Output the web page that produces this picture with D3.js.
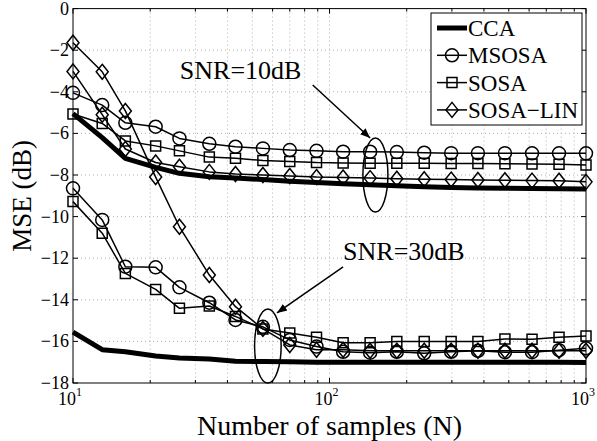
<!DOCTYPE html>
<html lang="en">
  <head>
    <meta charset="UTF-8" />
    <title>MSE vs number of samples</title>
    <script src="https://d3js.org/d3.v7.min.js"></script>
    <style>
      body {
        margin: 0;
        background: #fff;
      }
      .grid line {
        stroke: #b0b0b0;
        stroke-width: 1px;
        stroke-dasharray: 1, 3;
      }
    </style>
  </head>
  <body>
    <svg width="597" height="441" font-family="'Liberation Serif', 'Times New Roman', 'DejaVu Serif', serif"></svg>
    <script>
      // sample sizes (log spaced, 20 points between 10 and 1000)
      const samples = [10, 13, 16, 21, 26, 34, 43, 55, 70, 89, 113, 144, 183, 234, 298, 379, 483, 616, 785, 1000];

      // SNR = 10 dB
      const cca10 = [-5.05, -6.2, -7.2, -7.63, -7.92, -8.08, -8.15, -8.22, -8.3, -8.36, -8.42, -8.47, -8.52, -8.56, -8.6, -8.62, -8.64, -8.65, -8.66, -8.67];
      const msosa10 = [-4.05, -4.64, -5.49, -5.68, -6.24, -6.5, -6.64, -6.72, -6.8, -6.84, -6.88, -6.88, -6.9, -6.93, -6.95, -6.95, -6.95, -6.96, -6.96, -6.96];
      const sosa10 = [-5.07, -5.52, -6.36, -6.6, -6.84, -7.14, -7.2, -7.3, -7.35, -7.4, -7.42, -7.44, -7.44, -7.44, -7.45, -7.45, -7.46, -7.47, -7.48, -7.52];
      const sosalin10 = [-3.02, -5.1, -6.75, -7.4, -7.6, -7.85, -7.95, -8.0, -8.05, -8.1, -8.12, -8.15, -8.18, -8.2, -8.22, -8.24, -8.25, -8.27, -8.28, -8.33];

      // SNR = 30 dB
      const cca30 = [-15.55, -16.4, -16.5, -16.7, -16.8, -16.85, -16.95, -16.97, -16.98, -17.0, -17.0, -17.0, -17.0, -17.0, -17.0, -17.0, -17.0, -17.0, -17.0, -17.02];
      const msosa30 = [-8.64, -10.16, -12.41, -12.44, -13.4, -14.14, -14.97, -15.3, -15.93, -16.25, -16.5, -16.54, -16.5, -16.57, -16.5, -16.45, -16.52, -16.52, -16.42, -16.33];
      const sosa30 = [-9.28, -10.8, -12.73, -13.5, -14.41, -14.3, -14.8, -15.4, -15.6, -15.8, -16.06, -16.06, -16.0, -16.0, -16.0, -16.0, -15.88, -15.9, -15.8, -15.74];
      const sosalin30 = [-1.64, -3.04, -4.92, -8.1, -10.49, -12.81, -14.33, -15.4, -16.17, -16.4, -16.4, -16.45, -16.45, -16.45, -16.45, -16.45, -16.45, -16.45, -16.45, -16.45];

      const seriesNames = ["CCA", "MSOSA", "SOSA", "SOSA\u2212LIN"];
      const yTicks = [0, -2, -4, -6, -8, -10, -12, -14, -16, -18];
      const xMajor = [10, 100, 1000];
      const xMinor = [20, 30, 40, 50, 60, 70, 80, 90, 200, 300, 400, 500, 600, 700, 800, 900];

      const svg = d3.select("svg");
      const plot = { left: 73, right: 586, top: 8.6, bottom: 383 };

      const x = d3.scaleLog().domain([10, 1000]).range([plot.left, plot.right]);
      const y = d3.scaleLinear().domain([-18, 0]).range([plot.bottom, plot.top]);

      // grid
      const grid = svg.append("g").attr("class", "grid");
      grid.selectAll(".gx")
        .data(xMajor.concat(xMinor).filter((d) => d > 10 && d < 1000))
        .enter().append("line")
        .attr("x1", (d) => x(d)).attr("x2", (d) => x(d))
        .attr("y1", plot.top).attr("y2", plot.bottom);
      grid.selectAll(".gy")
        .data(yTicks.filter((d) => d > -18 && d < 0))
        .enter().append("line")
        .attr("x1", plot.left).attr("x2", plot.right)
        .attr("y1", (d) => y(d)).attr("y2", (d) => y(d));

      // inward ticks on all four sides
      const ticks = svg.append("g").attr("stroke", "#000").attr("stroke-width", 1);
      yTicks.forEach((d) => {
        ticks.append("line").attr("x1", plot.left).attr("x2", plot.left + 5).attr("y1", y(d)).attr("y2", y(d));
        ticks.append("line").attr("x1", plot.right).attr("x2", plot.right - 5).attr("y1", y(d)).attr("y2", y(d));
      });
      xMajor.forEach((d) => {
        ticks.append("line").attr("x1", x(d)).attr("x2", x(d)).attr("y1", plot.bottom).attr("y2", plot.bottom - 5);
        ticks.append("line").attr("x1", x(d)).attr("x2", x(d)).attr("y1", plot.top).attr("y2", plot.top + 5);
      });
      xMinor.forEach((d) => {
        ticks.append("line").attr("x1", x(d)).attr("x2", x(d)).attr("y1", plot.bottom).attr("y2", plot.bottom - 3);
        ticks.append("line").attr("x1", x(d)).attr("x2", x(d)).attr("y1", plot.top).attr("y2", plot.top + 3);
      });

      // tick labels
      svg.selectAll(".ylab")
        .data(yTicks)
        .enter().append("text")
        .attr("x", plot.left - 4)
        .attr("y", (d) => y(d) + 6)
        .attr("text-anchor", "end")
        .attr("font-size", 18)
        .text((d) => (d < 0 ? "\u2212" + -d : d));

      const xl = svg.selectAll(".xlab")
        .data(xMajor)
        .enter().append("text")
        .attr("x", (d) => x(d) - 3)
        .attr("y", plot.bottom + 22)
        .attr("text-anchor", "middle")
        .attr("font-size", 18);
      xl.append("tspan").text("10");
      xl.append("tspan")
        .attr("font-size", 12)
        .attr("dy", -9)
        .text((d) => Math.round(Math.log10(d)));

      // axis titles
      svg.append("text")
        .attr("x", (plot.left + plot.right) / 2)
        .attr("y", 435)
        .attr("text-anchor", "middle")
        .attr("font-size", 28)
        .text("Number of samples (N)");
      svg.append("text")
        .attr("transform", `translate(31,${(plot.top + plot.bottom) / 2}) rotate(-90)`)
        .attr("text-anchor", "middle")
        .attr("font-size", 27)
        .text("MSE (dB)");

      // series
      const line = d3.line().x((d) => x(d[0])).y((d) => y(d[1]));
      const markerPath = {
        circle: "M6.5,0A6.5,6.5 0 1,1 -6.5,0A6.5,6.5 0 1,1 6.5,0Z",
        square: "M-5,-5H5V5H-5Z",
        diamond: "M0,-7.5L6,0L0,7.5L-6,0Z",
        none: null,
      };
      const styles = [
        { w: 5, m: "none" },
        { w: 1.5, m: "circle" },
        { w: 1.5, m: "square" },
        { w: 1.5, m: "diamond" },
      ];
      const groups = [
        [cca10, msosa10, sosa10, sosalin10],
        [cca30, msosa30, sosa30, sosalin30],
      ];

      const series = svg.append("g");
      groups.forEach((grp) => {
        grp.forEach((vals, i) => {
          const pts = samples.map((n, k) => [n, vals[k]]);
          const st = styles[i];
          series.append("path")
            .datum(pts)
            .attr("d", line)
            .attr("fill", "none")
            .attr("stroke", "#000")
            .attr("stroke-width", st.w)
            .attr("stroke-linejoin", "round");
          if (markerPath[st.m]) {
            series.selectAll(null)
              .data(pts)
              .enter().append("path")
              .attr("d", markerPath[st.m])
              .attr("transform", (d) => `translate(${x(d[0])},${y(d[1])})`)
              .attr("fill", "none")
              .attr("stroke", "#000")
              .attr("stroke-width", 1.5);
          }
        });
      });

      // plot box
      svg.append("rect")
        .attr("x", plot.left).attr("y", plot.top)
        .attr("width", plot.right - plot.left).attr("height", plot.bottom - plot.top)
        .attr("fill", "none").attr("stroke", "#000").attr("stroke-width", 1);

      // annotations (data units)
      svg.append("defs").append("marker")
        .attr("id", "arrow")
        .attr("viewBox", "0 0 10 10")
        .attr("refX", 10).attr("refY", 5)
        .attr("markerWidth", 10).attr("markerHeight", 10)
        .attr("markerUnits", "userSpaceOnUse")
        .attr("orient", "auto")
        .append("path").attr("d", "M0,1L10,5L0,9Z").attr("fill", "#000");

      const notes = [
        { label: "SNR=10dB", tx: 26.1, ty: -3.38, from: [86, -3.67], to: [144, -6.22], ell: [151, -8.0, 12.5, 1.78] },
        { label: "SNR=30dB", tx: 113, ty: -12.09, from: [113, -12.42], to: [62.4, -14.63], ell: [57.5, -16.22, 13.3, 1.78] },
      ];
      notes.forEach((n) => {
        svg.append("text")
          .attr("x", x(n.tx)).attr("y", y(n.ty))
          .attr("font-size", 26)
          .text(n.label);
        svg.append("line")
          .attr("x1", x(n.from[0])).attr("y1", y(n.from[1]))
          .attr("x2", x(n.to[0])).attr("y2", y(n.to[1]))
          .attr("stroke", "#000").attr("stroke-width", 1.5)
          .attr("marker-end", "url(#arrow)");
        svg.append("ellipse")
          .attr("cx", x(n.ell[0])).attr("cy", y(n.ell[1]))
          .attr("rx", n.ell[2])
          .attr("ry", y(n.ell[1] - n.ell[3]) - y(n.ell[1]))
          .attr("fill", "none").attr("stroke", "#000").attr("stroke-width", 1.5);
      });

      // legend
      const lg = svg.append("g").attr("transform", "translate(431,13)");
      lg.append("rect")
        .attr("width", 151).attr("height", 112)
        .attr("fill", "#fff").attr("stroke", "#000").attr("stroke-width", 1);
      seriesNames.forEach((name, i) => {
        const cy = 15 + i * 27.3;
        const st = styles[i];
        lg.append("line")
          .attr("x1", 6).attr("x2", 36).attr("y1", cy).attr("y2", cy)
          .attr("stroke", "#000").attr("stroke-width", st.w);
        if (markerPath[st.m]) {
          lg.append("path")
            .attr("d", markerPath[st.m])
            .attr("transform", `translate(21,${cy})`)
            .attr("fill", "none").attr("stroke", "#000").attr("stroke-width", 1.5);
        }
        lg.append("text")
          .attr("x", 37).attr("y", cy + 8)
          .attr("font-size", 23)
          .text(name);
      });
    </script>
  </body>
</html>
